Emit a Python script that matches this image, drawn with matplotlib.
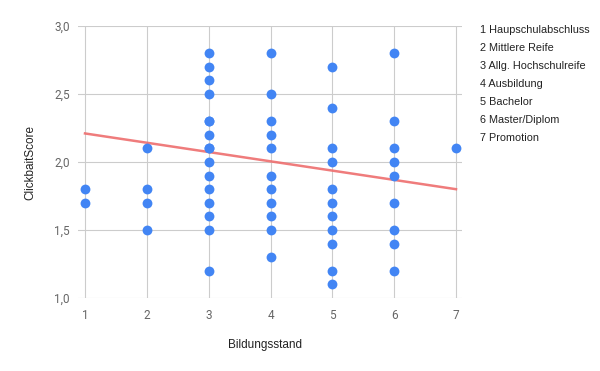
import numpy as np
import matplotlib
matplotlib.use("Agg")
import matplotlib.pyplot as plt

# --- data ----------------------------------------------------------------------
score_1 = [1.8, 1.7]
score_2 = [2.1, 1.8, 1.7, 1.5]
score_3 = [2.8, 2.7, 2.6, 2.5, 2.3, 2.3, 2.2, 2.1, 2.1, 2.0, 1.9, 1.8, 1.7, 1.6, 1.5, 1.2]
score_4 = [2.8, 2.5, 2.3, 2.2, 2.1, 1.9, 1.8, 1.7, 1.6, 1.5, 1.3]
score_5 = [2.7, 2.4, 2.1, 2.0, 1.8, 1.7, 1.6, 1.5, 1.4, 1.2, 1.1]
score_6 = [2.8, 2.3, 2.1, 2.0, 1.9, 1.7, 1.5, 1.4, 1.2]
score_7 = [2.1]
groups = [1, 2, 3, 4, 5, 6, 7]
categories = ["1 Haupschulabschluss", "2 Mittlere Reife", "3 Allg. Hochschulreife",
              "4 Ausbildung", "5 Bachelor", "6 Master/Diplom", "7 Promotion"]
trend_x = [1, 7]
trend_y = [2.21, 1.80]
yticks = [1.0, 1.5, 2.0, 2.5, 3.0]

BLUE = "#4285f4"
RED = "#ee6e6e"
GRID = "#cccccc"
TICK = "#666666"
TXT = "#222222"

plt.rcParams["font.family"] = ["Roboto", "DejaVu Sans"]
ARIAL = ["Liberation Sans", "DejaVu Sans"]

fig = plt.figure(figsize=(6.0, 3.71), dpi=100)
ax = fig.add_axes([78 / 600, 1 - 298 / 371, (462 - 78) / 600, (298 - 26) / 371])

all_scores = [score_1, score_2, score_3, score_4, score_5, score_6, score_7]
xs = np.concatenate([[g] * len(s) for g, s in zip(groups, all_scores)])
ys = np.concatenate(all_scores)
ax.scatter(xs, ys, s=50, color=BLUE, zorder=3, linewidths=0, clip_on=False)
ax.plot(trend_x, trend_y, color=RED, lw=1.8, zorder=2, alpha=0.9)

ax.set_xlim(1 - 7 / 61.8, 7 + 6 / 61.8)
ax.set_ylim(1.0, 3.0)
ax.set_xticks(groups)
ax.set_yticks(yticks)
ax.set_yticklabels([f"{v:.1f}".replace(".", ",") for v in yticks])
ax.grid(True, axis="y", color=GRID, lw=0.8)
ax.set_axisbelow(True)
for s in ("top", "right", "left", "bottom"):
    ax.spines[s].set_visible(False)
ax.tick_params(length=0, labelsize=8.5, colors=TICK)
ax.tick_params(axis="x", pad=8)
ax.tick_params(axis="y", pad=6)
for xpos in groups:
    ax.axvline(xpos, color=GRID, lw=0.8, zorder=0)

fig.text(265 / 600, 1 - 345 / 371, "Bildungsstand", ha="center", va="center",
         fontsize=8.5, color=TXT, family=ARIAL)
fig.text(30 / 600, 1 - 162 / 371, "ClickbaitScore", ha="center", va="center",
         fontsize=8.5, color=TXT, rotation=90, family=ARIAL)

for i, c in enumerate(categories):
    fig.text(480 / 600, 1 - (30 + 18 * i) / 371, c, ha="left", va="center",
             fontsize=7.8, color=TXT, family=ARIAL)

fig.savefig("out.png", dpi=100)
